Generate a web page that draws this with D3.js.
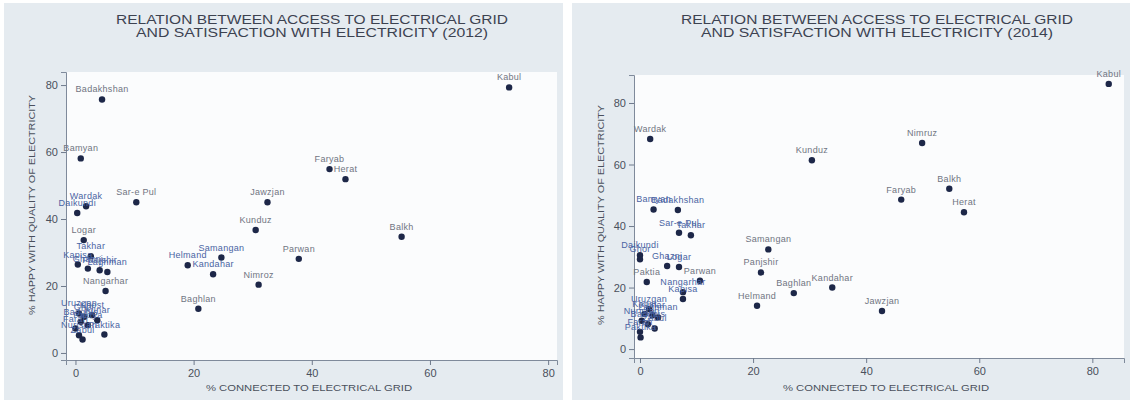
<!DOCTYPE html>
<html>
<head>
<meta charset="utf-8">
<script src="https://cdn.jsdelivr.net/npm/d3@7"></script>
<style>
  body { margin: 0; background: #ffffff; }
  svg { display: block; font-family: "Liberation Sans", Arial, sans-serif; }
</style>
</head>
<body>
<svg id="chart" width="1134" height="407"></svg>
<script>
// 2012 survey, by province
var provinces2012 = ["Kabul", "Badakhshan", "Bamyan", "Faryab", "Herat", "Jawzjan", "Sar-e Pul", "Wardak",
    "Daikundi", "Kunduz", "Balkh", "Logar", "Takhar", "Kapisa", "Ghazni", "Panjshir", "Laghman",
    "Helmand", "Samangan", "Kandahar", "Parwan", "Nimroz", "Nangarhar", "Baghlan",
    "Uruzgan", "Ghor", "Khost", "Kunar", "Badghis", "Paktya", "Farah", "Nuristan", "Zabul", "Paktika"];
var grid2012 = [73.4, 4.5, 0.9, 43.0, 45.7, 32.5, 10.3, 1.8,
    0.3, 30.5, 55.2, 1.4, 2.6, 0.4, 2.1, 4.1, 5.4,
    19.0, 24.7, 23.3, 37.8, 31.0, 5.1, 20.8,
    0.6, 1.5, 2.8, 3.7, 0.9, 2.1, 0.0, 0.6, 1.2, 4.9];
var happy2012 = [79.3, 75.7, 58.1, 54.9, 51.9, 45.0, 45.0, 43.8,
    41.8, 36.7, 34.7, 33.7, 28.9, 26.4, 25.2, 24.7, 24.2,
    26.2, 28.5, 23.5, 28.1, 20.4, 18.5, 13.2,
    11.8, 10.8, 11.3, 9.8, 9.3, 8.3, 7.3, 5.3, 4.0, 5.5];

// 2014 survey, by province
var provinces2014 = ["Kabul", "Wardak", "Nimruz", "Kunduz", "Balkh", "Faryab", "Herat", "Bamyan",
    "Badakhshan", "Sar-e Pul", "Takhar", "Samangan", "Daikundi", "Ghor", "Ghazni", "Logar", "Paktia",
    "Parwan", "Nangarhar", "Kapisa", "Panjshir", "Baghlan", "Kandahar", "Helmand", "Jawzjan",
    "Uruzgan", "Khost", "Kunar", "Laghman", "Nuristan", "Badghis", "Zabul", "Farah", "Paktika"];
var grid2014 = [82.9, 1.8, 49.9, 30.4, 54.7, 46.2, 57.3, 2.4,
    6.7, 6.9, 9.0, 22.7, 0.0, 0.0, 4.8, 6.9, 1.2,
    10.6, 7.6, 7.6, 21.4, 27.2, 34.0, 20.7, 42.8,
    1.6, 0.8, 2.2, 3.2, 0.3, 1.4, 2.6, 0.0, 0.1];
var happy2014 = [86.2, 68.3, 67.0, 61.4, 52.1, 48.6, 44.5, 45.4,
    45.2, 37.8, 37.0, 32.4, 30.5, 29.2, 27.0, 26.7, 21.8,
    22.2, 18.5, 16.3, 24.9, 18.2, 20.0, 14.1, 12.4,
    13.0, 11.4, 11.0, 10.3, 9.2, 8.1, 6.7, 5.6, 3.8];

var tickValues = [0, 20, 40, 60, 80];
var titleLine1 = "RELATION BETWEEN ACCESS TO ELECTRICAL GRID";
var titleLine2a = "AND SATISFACTION WITH ELECTRICITY (2012)";
var titleLine2b = "AND SATISFACTION WITH ELECTRICITY (2014)";
var xTitle = "% CONNECTED TO ELECTRICAL GRID";
var yTitle = "% HAPPY WITH QUALITY OF ELECTRICITY";

var svg = d3.select("#chart");

function drawPanel(p) {
    var g = svg.append("g");

    // graph region (light grey-blue) and white plot region
    g.append("rect")
        .attr("x", p.bg[0]).attr("y", p.bg[1])
        .attr("width", p.bg[2]).attr("height", p.bg[3])
        .style("fill", "#e5ebf0");
    g.append("rect")
        .attr("x", p.px[0]).attr("y", p.py[0])
        .attr("width", p.px[1] - p.px[0]).attr("height", p.py[1] - p.py[0])
        .style("fill", "#fbfcfd");

    var x = d3.scaleLinear().domain(p.xdom).range(p.px);
    var y = d3.scaleLinear().domain(p.ydom).range([p.py[1], p.py[0]]);

    // axes
    var xAxis = g.append("g")
        .attr("transform", "translate(0," + p.py[1] + ")")
        .call(d3.axisBottom(x).tickValues(tickValues).tickSize(5).tickPadding(4));
    var yAxis = g.append("g")
        .attr("transform", "translate(" + p.px[0] + ",0)")
        .call(d3.axisLeft(y).tickValues(tickValues).tickSize(5).tickPadding(3));
    [xAxis, yAxis].forEach(function(a) {
        a.select(".domain").style("stroke", "#7f8a9b");
        a.selectAll(".tick line").style("stroke", "#6f7a8c");
        a.selectAll(".tick text")
            .style("font-size", "11px")
            .style("fill", "#4a505c")
            .style("font-family", "'Liberation Sans', Arial, sans-serif");
    });

    // titles
    var cx = p.titleX;
    g.append("text").attr("x", cx).attr("y", 24)
        .attr("text-anchor", "middle")
        .attr("textLength", 392).attr("lengthAdjust", "spacingAndGlyphs")
        .style("font-size", "12.5px").style("fill", "#3c4250")
        .text(titleLine1);
    g.append("text").attr("x", cx).attr("y", 37)
        .attr("text-anchor", "middle")
        .attr("textLength", 352).attr("lengthAdjust", "spacingAndGlyphs")
        .style("font-size", "12.5px").style("fill", "#3c4250")
        .text(p.title2);

    g.append("text").attr("x", p.xTitleX).attr("y", 391)
        .attr("text-anchor", "middle")
        .attr("textLength", 206).attr("lengthAdjust", "spacingAndGlyphs")
        .style("font-size", "8.5px").style("fill", "#4a505c")
        .text(xTitle);
    g.append("text")
        .attr("transform", "translate(" + p.yTitleX + "," + p.yTitleY + ") rotate(-90)")
        .attr("text-anchor", "middle")
        .attr("textLength", 220).attr("lengthAdjust", "spacingAndGlyphs")
        .style("font-size", "8.5px").style("fill", "#4a505c")
        .text(yTitle);

    // points + labels
    var data = p.names.map(function(n, i) { return {name: n, gx: p.gx[i], hy: p.hy[i]}; });

    var pts = g.append("g").selectAll("g")
        .data(data)
        .enter()
        .append("g")
        .attr("transform", function(d) { return "translate(" + x(d.gx) + "," + y(d.hy) + ")"; });

    var labels = pts.append("text")
        .attr("y", -7)
        .attr("text-anchor", "middle")
        .style("font-size", "9px")
        .style("letter-spacing", "0.3px")
        .style("fill", "#707582")
        .text(function(d) { return d.name; });

    pts.append("circle")
        .attr("r", 3.2)
        .style("fill", "#1d2748");

    // overlapping labels smear into blue in the original
    var boxes = [];
    labels.each(function(d) {
        var b = this.getBBox();
        boxes.push({x: b.x + x(d.gx), y: b.y + y(d.hy), w: b.width, h: b.height});
    });
    labels.style("fill", function(d, i) {
        var a = boxes[i];
        var hit = boxes.some(function(b, j) {
            return j != i && a.x < b.x + b.w && b.x < a.x + a.w && a.y < b.y + b.h && b.y < a.y + a.h;
        });
        return hit ? "#4a64a3" : "#707582";
    });
}

drawPanel({
    bg: [4, 3, 559, 397],
    px: [66, 557], py: [72, 360],
    xdom: [-1.6, 81.5], ydom: [-2.1, 83.9],
    titleX: 312, title2: titleLine2a,
    xTitleX: 309, yTitleX: 35, yTitleY: 205,
    names: provinces2012, gx: grid2012, hy: happy2012
});

drawPanel({
    bg: [572, 3, 558, 397],
    px: [634, 1124], py: [75, 358],
    xdom: [-1.06, 85.6], ydom: [-2.9, 89.1],
    titleX: 877, title2: titleLine2b,
    xTitleX: 886, yTitleX: 604, yTitleY: 215,
    names: provinces2014, gx: grid2014, hy: happy2014
});
</script>
</body>
</html>
